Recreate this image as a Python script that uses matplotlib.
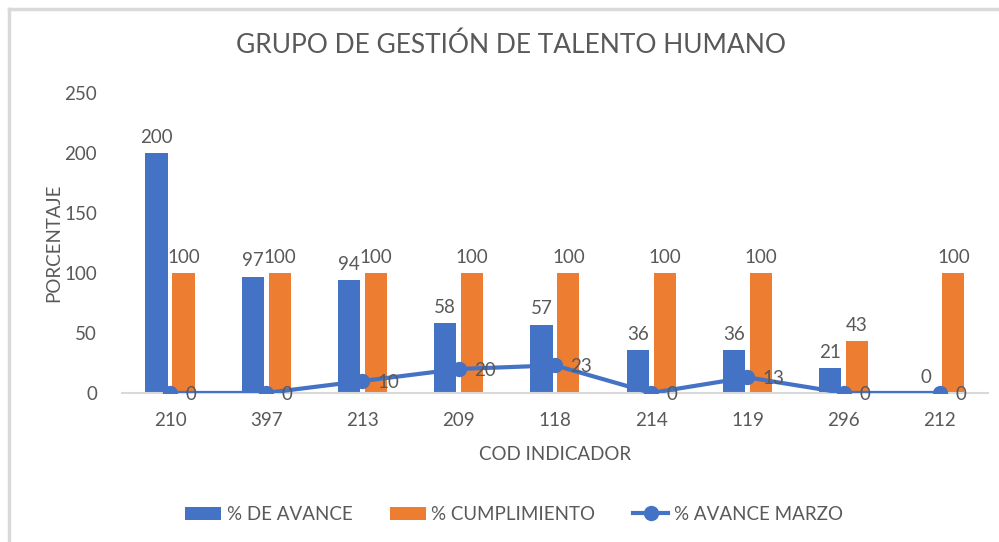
import numpy as np
import matplotlib.pyplot as plt
from matplotlib.lines import Line2D

# ==========================================
# Chart data
# ==========================================
codigos = ["210", "397", "213", "209", "118", "214", "119", "296", "212"]
avance = [200, 97, 94, 58, 57, 36, 36, 21, 0]
cumplimiento = [100, 100, 100, 100, 100, 100, 100, 43, 100]
avance_marzo = [0, 0, 10, 20, 23, 0, 13, 0, 0]

AZUL = "#4472C4"
NARANJA = "#ED7D31"
GRIS = "#595959"


# ==========================================
# Main execution
# ==========================================
if __name__ == "__main__":
    plt.rcParams["font.family"] = ["Lato", "DejaVu Sans"]

    x = np.arange(len(codigos))

    fig = plt.figure(figsize=(9.99, 5.42), dpi=100)
    plt.axes([0.122, 0.275, 0.867, 0.553])

    # Bars
    plt.bar(x - 0.14, avance, width=0.23, color=AZUL, label="% DE AVANCE", zorder=2)
    plt.bar(x + 0.14, cumplimiento, width=0.23, color=NARANJA, label="% CUMPLIMIENTO", zorder=2)

    # Line
    plt.plot(x, avance_marzo, color=AZUL, linewidth=3, marker='o', markersize=10,
             label="% AVANCE MARZO", zorder=3)

    # Data labels
    for i in x:
        plt.text(i - 0.14, avance[i] + 6, str(avance[i]), ha='center', va='bottom',
                 fontsize=13.5, color=GRIS)
        plt.text(i + 0.14, cumplimiento[i] + 6, str(cumplimiento[i]), ha='center', va='bottom',
                 fontsize=13.5, color=GRIS)
        plt.text(i + 0.16, avance_marzo[i] - 1, str(avance_marzo[i]), ha='left', va='center',
                 fontsize=13.5, color=GRIS, zorder=4)

    plt.ylim(0, 250)
    plt.xlim(-0.5, len(codigos) - 0.5)
    plt.yticks(range(0, 251, 50), fontsize=13.5, color=GRIS)
    plt.xticks(x, codigos, fontsize=13.5, color=GRIS)
    plt.tick_params(length=0)
    plt.tick_params(axis='x', pad=14)
    plt.tick_params(axis='y', pad=18)

    ax = plt.gca()
    for lado in ["top", "right", "left"]:
        ax.spines[lado].set_visible(False)
    ax.spines["bottom"].set_color("#D9D9D9")
    ax.spines["bottom"].set_linewidth(1.5)

    plt.xlabel("COD INDICADOR", fontsize=13.5, color=GRIS, labelpad=12)
    plt.ylabel("PORCENTAJE", fontsize=13.5, color=GRIS, labelpad=1)
    fig.suptitle("GRUPO DE GESTIÓN DE TALENTO HUMANO", fontsize=19, color=GRIS, x=0.512, y=0.94)

    handles, labels = ax.get_legend_handles_labels()
    orden = [1, 2, 0]  # bars first, then the line
    plt.legend([handles[k] for k in orden], [labels[k] for k in orden],
               loc='upper center', bbox_to_anchor=(0.453, -0.32), ncol=3, frameon=False,
               fontsize=13.5, labelcolor=GRIS, handlelength=1.9, columnspacing=2.0,
               handletextpad=0.3)

    # Chart border (left and top)
    fig.add_artist(Line2D([0.009, 0.009], [0, 0.983], transform=fig.transFigure,
                          color="#D9D9D9", linewidth=2.5))
    fig.add_artist(Line2D([0.009, 1], [0.983, 0.983], transform=fig.transFigure,
                          color="#D9D9D9", linewidth=2.5))

    plt.savefig('out.png', dpi=100)
